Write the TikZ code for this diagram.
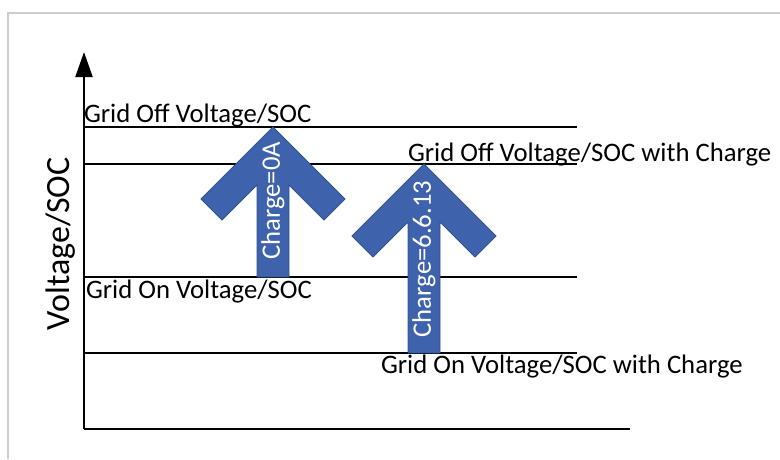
\documentclass[tikz,border=0pt]{standalone}
\usepackage{fontspec}
\setmainfont{Carlito}
\usepackage{xcolor}
\usepackage{tikz}
\usetikzlibrary{calc,arrows.meta,positioning}

\definecolor{chgblue}{RGB}{63,98,172}
\definecolor{chgedge}{RGB}{47,82,143}
\definecolor{framegray}{RGB}{205,205,205}

\begin{document}
\begin{tikzpicture}[x=1pt,y=-1pt,>=Latex,line width=2pt,
  every node/.style={font=\fontsize{26.7}{30}\selectfont,inner sep=0pt},
  lvl/.style={line width=2pt},
  chg/.style={fill=chgblue,draw=chgedge,line width=0.8pt,line join=miter},
  chgtxt/.style={rotate=90,text=white}]
  \useasboundingbox (0,0) rectangle (780,459);
  % Frame
  \draw[framegray,line width=1.2pt] (8,459) -- (8,13) -- (780,13);

  % Axes
  \coordinate (O) at (84,429);
  \coordinate (Ytop) at (84,52);
  \coordinate (Xend) at (630,429);
  \draw[-{Triangle[width=17pt,length=25pt]}] (O) -- (Ytop);
  \draw (O) -- (Xend);
  \node[rotate=90,font=\fontsize{34}{40}\selectfont] (ylab) at (61,244) {Voltage/SOC};

  % Levels
  \coordinate (Loff) at (84,127);   \coordinate (Roff) at (577,127);
  \coordinate (Loffc) at (84,164);  \coordinate (Roffc) at (577,164);
  \coordinate (Lon) at (84,277);    \coordinate (Ron) at (577,277);
  \coordinate (Lonc) at (84,353);   \coordinate (Ronc) at (577,353);
  \draw[lvl] (Loff) -- (Roff);
  \draw[lvl] (Loffc) -- (Roffc);
  \draw[lvl] (Lon) -- (Ron);
  \draw[lvl] (Lonc) -- (Ronc);

  % Level labels
  \node[anchor=base west] (off) at (83,122) {Grid Off Voltage/SOC};
  \node[anchor=base west] (offc) at (407,161) {Grid Off Voltage/SOC with Charge};
  \node[anchor=base west] (on) at (85,298) {Grid On Voltage/SOC};
  \node[anchor=base west] (onc) at (380,373) {Grid On Voltage/SOC with Charge};

  % --- Charge = 0A ---
  \coordinate (A1) at (273,127);
  \draw[chg] (A1) -- ($(A1)+(-72,72)$) -- ($(A1)+(-51,93)$) -- ($(A1)+(-16,58)$)
    -- ($(A1)+(-16,150)$) -- ($(A1)+(16,150)$) -- ($(A1)+(16,58)$)
    -- ($(A1)+(51,93)$) -- ($(A1)+(72,72)$) -- cycle;
  \node[chgtxt] (c1) at ($(A1)+(0,74)$) {Charge=0A};

  % --- Charge = 6.6.13 ---
  \coordinate (A2) at (424,164);
  \draw[chg] (A2) -- ($(A2)+(-72,72)$) -- ($(A2)+(-51,93)$) -- ($(A2)+(-16,58)$)
    -- ($(A2)+(-16,189)$) -- ($(A2)+(16,189)$) -- ($(A2)+(16,58)$)
    -- ($(A2)+(51,93)$) -- ($(A2)+(72,72)$) -- cycle;
  \node[chgtxt] (c2) at ($(A2)+(0,95)$) {Charge=6.6.13};
\end{tikzpicture}
\end{document}
